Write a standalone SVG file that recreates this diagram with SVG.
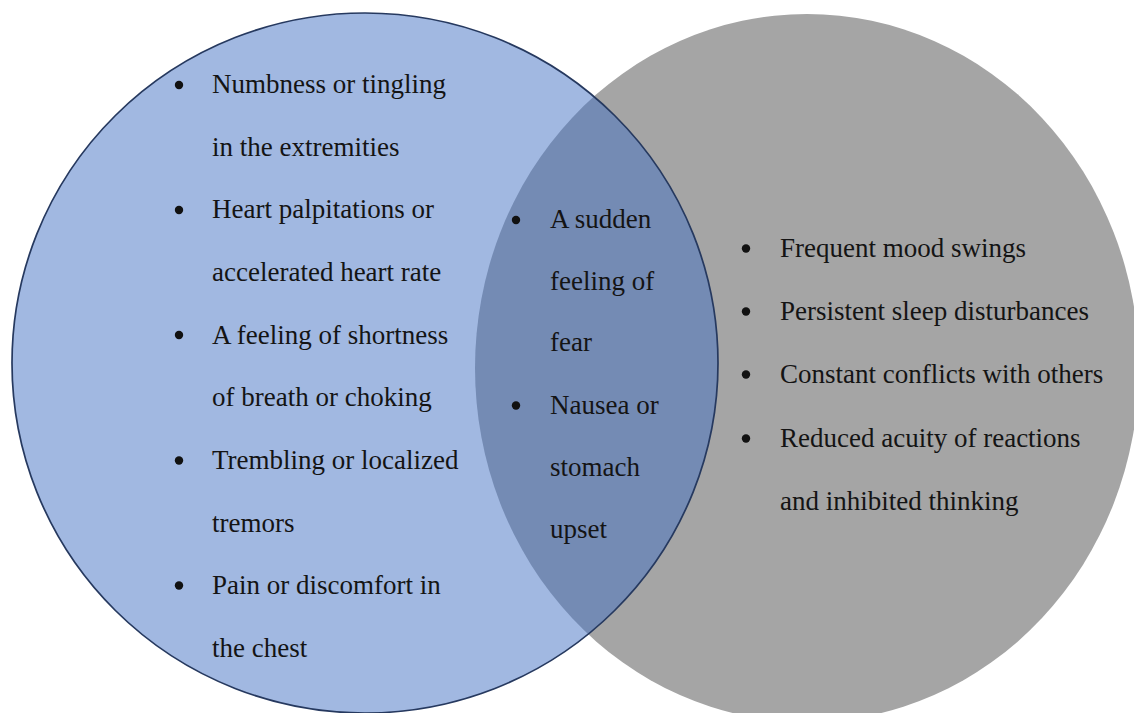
<svg xmlns="http://www.w3.org/2000/svg" width="1134" height="713" viewBox="0 0 1134 713">
<style>
.t{font-family:"Liberation Serif","Times New Roman",serif;font-size:27px;fill:#141414;}
.b{fill:#111;}
</style>
<rect width="1134" height="713" fill="#ffffff"/>
<g id="set-right">
<ellipse cx="807" cy="368" rx="332" ry="354" fill="#a5a5a5"/>
</g>
<g id="set-left">
<ellipse cx="365" cy="363" rx="353" ry="350" fill="#4472c4" fill-opacity="0.5" stroke="#26395f" stroke-width="1.7"/>
</g>
<g id="connectors"></g>
<g id="left-items">
<circle class="b" cx="179" cy="85" r="4.2"/>
<text class="t" x="212" y="93">Numbness or tingling</text>
<text class="t" x="212" y="155.5">in the extremities</text>
<circle class="b" cx="179" cy="210" r="4.2"/>
<text class="t" x="212" y="218">Heart palpitations or</text>
<text class="t" x="212" y="281">accelerated heart rate</text>
<circle class="b" cx="179" cy="335" r="4.2"/>
<text class="t" x="212" y="343.5">A feeling of shortness</text>
<text class="t" x="212" y="406">of breath or choking</text>
<circle class="b" cx="179" cy="460.5" r="4.2"/>
<text class="t" x="212" y="469">Trembling or localized</text>
<text class="t" x="212" y="531.5">tremors</text>
<circle class="b" cx="179" cy="585.5" r="4.2"/>
<text class="t" x="212" y="594">Pain or discomfort in</text>
<text class="t" x="212" y="657">the chest</text>
</g>
<g id="overlap-items">
<circle class="b" cx="516" cy="220" r="4.2"/>
<text class="t" x="550" y="228">A sudden</text>
<text class="t" x="550" y="290">feeling of</text>
<text class="t" x="550" y="351">fear</text>
<circle class="b" cx="516" cy="405.5" r="4.2"/>
<text class="t" x="550" y="414">Nausea or</text>
<text class="t" x="550" y="476">stomach</text>
<text class="t" x="550" y="538">upset</text>
</g>
<g id="right-items">
<circle class="b" cx="746" cy="248.5" r="4.2"/>
<text class="t" x="780" y="257">Frequent mood swings</text>
<circle class="b" cx="746" cy="311.5" r="4.2"/>
<text class="t" x="780" y="320">Persistent sleep disturbances</text>
<circle class="b" cx="746" cy="374.5" r="4.2"/>
<text class="t" x="780" y="383">Constant conflicts with others</text>
<circle class="b" cx="746" cy="438.5" r="4.2"/>
<text class="t" x="780" y="447">Reduced acuity of reactions</text>
<text class="t" x="780" y="510">and inhibited thinking</text>
</g>
</svg>
